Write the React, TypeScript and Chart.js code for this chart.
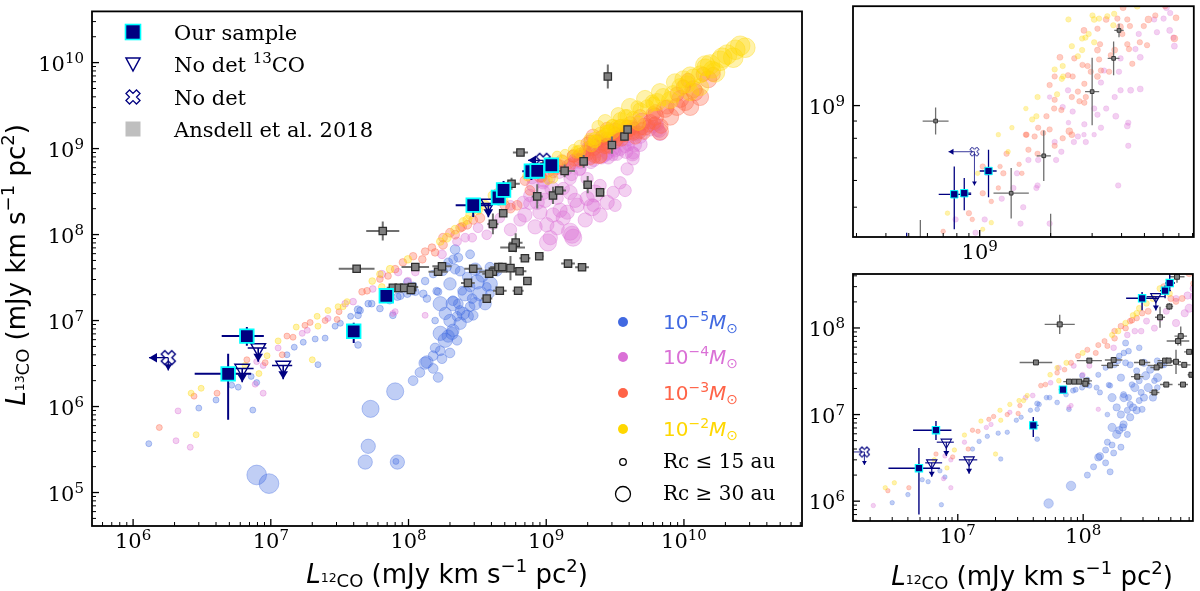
import React, { useEffect, useRef } from "react";
import { Chart, registerables } from "chart.js";

Chart.register(...registerables);

const SERIF = "'DejaVu Serif', serif";
const SANS = "'DejaVu Sans', sans-serif";
const NAVY = "#000080";
const CYAN = "#00ffff";

// ---------------- data ----------------
// Our sample (L12CO, L13CO) with error bounds
const ourL12 = [6.7e6, 4.9e6, 4.0e7, 6.9e7, 2.95e8, 4.5e8, 4.9e8, 7.8e8, 8.6e8, 1.09e9];
const ourL13 = [6.6e6, 2.4e6, 7.5e6, 1.94e7, 2.2e8, 2.7e8, 3.3e8, 5.46e8, 5.5e8, 6.4e8];
const ourL12Lo = [4.4e6, 2.8e6, 3.7e7, 6.4e7, 2.2e8, 4.1e8, 4.5e8, 6.7e8, 8.3e8, 1.0e9];
const ourL12Hi = [8.9e6, 7.2e6, 4.4e7, 7.4e7, 4.0e8, 5.0e8, 5.4e8, 9.2e8, 9.2e8, 1.18e9];
const ourL13Lo = [5.1e6, 7.0e5, 5.5e6, 1.8e7, 1.6e8, 2.2e8, 2.7e8, 4.3e8, 4.9e8, 5.35e8];
const ourL13Hi = [8.4e6, 4.1e6, 9.4e6, 2.1e7, 2.6e8, 3.1e8, 4.2e8, 6.6e8, 6.1e8, 7.4e8];

// No 13CO detection (upper limits on L13CO)
const nd13L12 = [8.1e6, 6.2e6, 1.23e7, 3.8e8];
const nd13L13 = [4.8e6, 2.77e6, 3.0e6, 2.3e8];
const nd13L12Lo = [6.8e6, 5.5e6, 1.02e7, 3.2e8];
const nd13L12Hi = [9.3e6, 7.5e6, 1.43e7, 4.5e8];
const nd13LimDex = [0.16, 0.16, 0.16, 0.16];

// No detection (upper limits on both)
const ndL12 = [1.8e6, 9.5e8];
const ndL13 = [3.7e6, 7.3e8];
const ndXLimDex = [0.14, 0.11];
const ndYLimDex = [0.15, 0.1];

// Ansdell et al. 2018
const ansL12 = [6.5e7, 4.2e7, 1.12e8, 1.64e8, 1.75e8, 7.7e7, 8.5e7, 9.3e7, 1.06e8, 1.04e8,
  2.95e8, 4.1e8, 3.85e8, 4.5e8, 2.7e8, 3.7e8, 4.8e8, 5.5e8, 6.4e8, 6.0e8,
  5.7e8, 7.0e8, 8.9e8, 1.44e9, 1.82e9, 7.3e8, 6.25e8, 4.6e8, 4.1e8, 4.87e8,
  6.5e8, 5.6e8, 1.36e9, 1.87e9, 3.0e9, 3.7e9, 3.9e9, 8.6e8, 1.12e9, 1.24e9,
  2.0e9, 2.46e9, 2.8e9];
const ansL13 = [1.1e8, 4.0e7, 4.2e7, 3.7e7, 4.27e7, 2.4e7, 2.4e7, 2.4e7, 2.45e7, 2.27e7,
  4.0e7, 3.7e7, 3.5e7, 4.2e7, 2.74e7, 1.8e7, 4.2e7, 4.07e7, 3.75e7, 8.05e7,
  7.06e7, 5.3e7, 5.6e7, 4.6e7, 4.17e7, 2.88e7, 2.22e7, 2.22e7, 1.33e8, 1.77e8,
  9.0e8, 3.9e8, 5.5e8, 7.1e8, 1.1e9, 1.38e9, 1.67e9, 2.78e8, 2.85e8, 3.26e8,
  3.8e8, 3.1e8, 6.9e9];
const ansErrXDex = [0.12, 0.13, 0.10, 0.07, 0.07, 0.045, 0.045, 0.045, 0.045, 0.04,
  0.065, 0.1, 0.05, 0.06, 0.05, 0.04, 0.05, 0.04, 0.05, 0.05,
  0.09, 0.04, 0.03, 0.05, 0.05, 0.03, 0.04, 0.05, 0.04, 0.03,
  0.055, 0.06, 0.075, 0.03, 0.03, 0.025, 0.02, 0.04, 0.03, 0.05,
  0.03, 0.03, 0.02];
const ansErrYDex = [0.11, 0.02, 0.02, 0.02, 0.02, 0.02, 0.02, 0.02, 0.02, 0.02,
  0.02, 0.02, 0.02, 0.02, 0.02, 0.02, 0.02, 0.14, 0.02, 0.11,
  0.05, 0.02, 0.02, 0.02, 0.02, 0.02, 0.02, 0.02, 0.12, 0.04,
  0.04, 0.07, 0.075, 0.075, 0.1, 0.05, 0.02, 0.14, 0.1, 0.02,
  0.1, 0.03, 0.14];

// Models, disc mass 1e-5 Msun
const m5L12 = [1.3e6, 3.0e6, 4.0e6, 5.2e6, 5.8e6, 7.4e6, 7.9e6, 7.2e6, 1.31e7, 1.48e7,
  1.72e7, 2.1e7, 2.2e7, 2.48e7, 2.93e7, 4.3e7, 4.3e7, 4.3e7, 5.1e7, 6.2e7,
  7.7e7, 8.3e7, 1.06e8, 1.28e8, 1.56e8, 1.64e8, 3.2e7, 3.8e7, 4.45e7, 5.4e7,
  7.3e7, 8.7e7, 9.8e7, 1.12e8, 1.36e8, 1.6e8, 1.51e8, 1.32e8, 1.94e8, 2.11e8,
  2.3e8, 1.9e8, 2.18e8, 1.78e8, 1.08e8, 9.8e7, 2.67e8, 2.8e8, 3.15e8, 3.3e8,
  3.05e8, 2.8e8, 2.3e8, 2.11e8, 2.37e8, 2.5e8, 2.25e8, 2.0e8, 2.1e8, 1.94e8,
  1.85e8, 2.25e8, 1.7e8, 1.51e8, 1.75e8, 1.36e8, 1.51e8, 1.64e8, 1.08e8, 8.0e7,
  5.3e7, 5.1e7, 4.85e7, 8.3e7, 7.9e6, 9.7e6, 1.32e8, 2.67e8, 2.95e8, 2.07e8,
  2.37e8, 3.9e8, 4.4e8, 3.7e8, 3.9e8, 2.45e8, 2.9e8, 2.1e8, 3.42e8, 4.25e8,
  8.1e7, 1.7e8, 1.85e8, 2.37e8, 2.58e8, 3.6e8, 3.92e8, 3.05e8, 2.0e8, 1.7e8,
  1.56e8, 2.0e8, 1.21e8, 2.18e8, 2.8e8];
const m5L13 = [3.7e5, 9.6e5, 1.19e6, 1.77e6, 1.68e6, 9.1e5, 1.9e6, 2.24e6, 4.0e6, 4.9e6,
  5.6e6, 6.1e6, 3.07e6, 6.25e6, 8.6e6, 5.2e6, 1.15e7, 1.34e7, 1.57e7, 1.38e7,
  1.15e7, 1.89e7, 2.2e7, 2.05e7, 1.0e7, 2.16e7, 9.3e6, 1.12e7, 1.31e7, 1.57e7,
  1.7e7, 1.94e7, 2.05e7, 2.16e7, 1.8e7, 2.2e7, 3.47e7, 2.88e7, 4.75e7, 5.15e7,
  5.4e7, 4.17e7, 3.96e7, 3.75e7, 2.53e7, 2.81e7, 3.2e7, 2.46e7, 2.81e7, 2.05e7,
  1.57e7, 1.45e7, 1.57e7, 1.57e7, 1.31e7, 1.21e7, 1.12e7, 1.0e7, 7.7e6, 6.6e6,
  5.9e6, 5.9e6, 4.45e6, 3.9e6, 3.6e6, 3.3e6, 2.77e6, 2.18e6, 2.0e6, 1.5e6,
  9.4e5, 3.45e5, 2.26e5, 2.26e5, 1.6e5, 1.27e5, 3.2e6, 1.12e7, 1.15e7, 7.1e6,
  3.75e7, 4.17e7, 3.75e7, 2.46e7, 2.05e7, 2.22e7, 1.8e7, 1.7e7, 3.3e7, 3.75e7,
  2.3e5, 1.57e7, 1.21e7, 9.3e6, 2.05e7, 1.57e7, 2.67e7, 3.96e7, 2.67e7, 7.1e6,
  4.8e6, 4.2e6, 2.49e6, 6.7e7, 5.9e7];
const m5Rc = [5, 5, 5, 5, 5, 5, 5, 5, 5, 5,
  5, 5, 5, 5, 5, 7, 7, 10, 7, 7,
  7, 10, 10, 10, 7, 10, 5, 5, 7, 7,
  7, 10, 10, 10, 10, 10, 10, 10, 15, 15,
  15, 15, 20, 15, 10, 10, 20, 20, 60, 60,
  40, 20, 20, 60, 20, 40, 20, 40, 40, 40,
  60, 20, 20, 20, 20, 40, 20, 20, 20, 100,
  100, 60, 60, 60, 150, 150, 40, 40, 20, 40,
  20, 20, 20, 15, 15, 15, 20, 20, 40, 15,
  5, 60, 40, 40, 60, 40, 60, 40, 40, 60,
  20, 20, 20, 20, 15];

// Models, disc mass 1e-4 Msun
const m4L12 = [2.12e6, 2.05e6, 2.6e6, 8.8e6, 7.7e6, 8.8e6, 7.9e6, 1.13e7, 1.69e7, 1.84e7,
  2.6e7, 3.47e7, 3.96e7, 5.5e7, 6.4e7, 7.7e7, 8.4e7, 9.9e7, 1.12e8, 8.0e7,
  1.32e8, 1.75e8, 2.25e8, 2.9e8, 3.2e8, 2.58e8, 3.7e8, 4.1e8, 4.6e8, 5.5e8,
  7.9e8, 9.5e8, 1.1e9, 8.6e8, 7.6e8, 9.0e8, 1.12e9, 1.42e9, 1.68e9, 1.98e9,
  2.19e9, 2.77e9, 3.06e9, 2.46e9, 1.98e9, 1.49e9, 1.33e9, 1.2e9, 1.01e9, 1.2e9,
  1.49e9, 1.07e9, 1.57e9, 2.15e9, 2.26e9, 1.33e9, 6.8e8, 8.0e8, 9.5e8, 1.49e9,
  3.44e9, 3.87e9, 4.27e9, 3.06e9, 2.38e9, 1.98e9, 1.76e9, 1.07e9, 6.4e9, 4.27e9,
  3.44e9, 2.77e9, 4.8e9, 6.7e9, 5.5e9, 6.2e9, 4.8e9, 3.74e9,
  6.03e9, 6.43e9, 5.65e9, 6.64e9, 4.73e9, 4.58e9, 3.96e9, 3.9e9, 3.37e9, 3.27e9,
  3.96e9, 4.37e9, 2.37e9, 2.48e9, 2.25e9, 3.06e9, 3.16e9, 3.78e9, 4.23e9, 3.27e9,
  2.78e9, 2.61e9, 2.82e9, 2.51e9, 2.08e9, 2.22e9, 2.11e9, 1.77e9, 1.61e9, 1.74e9,
  1.53e9, 1.44e9, 1.24e9, 1.05e9, 9.6e8, 1.39e9,
  7.0e8, 8.3e8, 1.92e9, 2.46e9, 3.16e9, 3.74e9, 9.8e8, 1.62e9, 1.26e9, 7.6e8,
  6.45e8, 5.5e8, 1.03e9, 1.54e9];
const m4L13 = [8.9e5, 4.0e5, 3.36e5, 1.43e6, 1.82e6, 3.0e6, 3.33e6, 4.8e6, 7.1e6, 7.7e6,
  1.06e7, 1.57e7, 1.66e7, 2.33e7, 3.47e7, 1.21e7, 3.66e7, 2.88e7, 3.66e7, 1.27e7,
  1.15e7, 5.9e7, 8.3e7, 9.2e7, 1.2e8, 9.2e7, 9.95e7, 1.3e8, 1.56e8, 2.19e8,
  4.6e8, 4.0e8, 3.43e8, 2.37e8, 2.31e8, 1.82e8, 1.69e8, 1.82e8, 2.19e8, 2.64e8,
  2.19e8, 2.37e8, 3.09e8, 3.72e8, 4.47e8, 4.47e8, 3.43e8, 2.64e8, 1.3e8, 1.2e8,
  1.08e8, 9.2e7, 9.2e7, 2.08e8, 3.0e8, 1.56e8, 2.37e8, 3.72e8, 3.09e8, 3.09e8,
  4.0e8, 5.8e8, 7.6e8, 8.2e8, 8.9e8, 1.06e9, 5.8e8, 6.3e8, 1.67e9, 8.9e8,
  9.8e8, 8.2e8, 1.12e9, 1.5e9, 1.8e9, 1.95e9, 1.39e9, 1.06e9,
  1.81e9, 1.88e9, 1.65e9, 1.59e9, 1.63e9, 1.47e9, 1.38e9, 1.26e9, 1.27e9, 1.17e9,
  1.11e9, 1.11e9, 1.11e9, 9.6e8, 9.9e8, 9.8e8, 9.4e8, 9.3e8, 8.7e8, 8.6e8,
  8.8e8, 8.1e8, 7.8e8, 7.8e8, 7.8e8, 7.3e8, 6.9e8, 6.9e8, 6.9e8, 5.7e8,
  5.0e8, 6.3e8, 5.3e8, 4.6e8, 4.2e8, 5.7e8,
  1.69e8, 1.23e8, 1.48e8, 1.69e8, 2.19e8, 3.26e8, 2.5e8, 2.5e8, 1.92e8, 2.85e8,
  1.48e8, 1.14e8, 8.1e7, 9.95e7];
const m4Rc = [5, 5, 5, 5, 5, 5, 5, 5, 5, 5,
  5, 7, 7, 7, 10, 5, 10, 10, 10, 5,
  5, 15, 15, 15, 20, 15, 20, 20, 20, 20,
  40, 40, 60, 60, 40, 60, 60, 60, 60, 60,
  40, 60, 40, 40, 40, 40, 40, 40, 60, 60,
  100, 60, 100, 100, 100, 60, 40, 40, 60, 60,
  40, 40, 40, 20, 20, 20, 40, 20, 60, 40,
  40, 20, 60, 60, 40, 60, 60, 40,
  40, 40, 40, 40, 40, 40, 40, 40, 40, 40,
  40, 60, 40, 40, 40, 40, 40, 60, 60, 40,
  40, 40, 40, 40, 40, 40, 40, 40, 40, 40,
  40, 40, 40, 40, 40, 40,
  60, 60, 60, 60, 40, 40, 60, 60, 60, 40,
  40, 40, 100, 100];

// Models, disc mass 1e-3 Msun
const m3L12 = [1.55e6, 2.77e6, 4.07e6, 6.7e6, 9.1e6, 1.21e7, 1.31e7, 1.45e7, 1.77e7, 1.93e7,
  3.03e7, 3.13e7, 2.48e7, 4.6e7, 5.0e7, 6.2e7, 7.1e7, 8.0e7, 9.1e7, 1.08e8,
  1.26e8, 1.32e8, 1.48e8, 1.56e8, 1.78e8, 2.18e8, 2.45e8, 2.67e8, 2.95e8, 1.78e8,
  2.0e8, 2.37e8, 3.3e8, 5.5e8, 6.15e8, 9.0e8, 1.3e9, 1.57e9, 2.08e9, 1.98e9,
  2.19e9, 2.77e9, 3.44e9, 4.06e9, 4.8e9, 6.0e9, 7.55e9, 8.9e9, 8.9e9, 9.9e9,
  1.07e10, 1.38e10, 1.63e10, 6.7e9, 5.7e9, 3.16e9, 2.46e9, 1.26e9, 1.03e9, 7.6e8,
  7.94e9, 1.02e10, 1.2e10, 5.2e9, 3.74e9, 2.82e9, 1.92e9, 1.76e9, 6.2e9, 4.4e8,
  7.0e8, 5.0e8, 1.03e9,
  3.84e9, 4.23e9, 4.97e9, 5.56e9, 6.12e9, 6.81e9, 3.16e9, 3.24e9, 3.21e9, 4.34e9,
  4.03e9, 4.78e9, 5.13e9, 3.6e9, 4.23e9, 4.3e9, 4.44e9, 3.27e9, 3.54e9, 2.87e9,
  2.96e9, 2.73e9, 2.52e9, 2.37e9, 2.48e9, 2.08e9, 2.61e9, 2.78e9, 2.08e9, 2.22e9,
  2.07e9, 2.65e9, 2.78e9, 1.77e9, 1.58e9, 1.71e9, 1.61e9, 1.47e9, 1.22e9, 1.51e9,
  1.2e9, 1.12e9, 9.3e8, 2.4e9, 2.25e9, 1.98e9, 1.86e9,
  3.16e9, 3.94e9, 4.97e9, 6.18e9, 7.3e9, 9.4e9, 1.17e10, 1.5e10, 1.11e10, 1.31e10,
  2.46e9];
const m3L13 = [5.7e5, 1.32e6, 1.43e6, 3.5e6, 3.24e6, 4.0e6, 6.6e6, 6.4e6, 8.8e6, 9.5e6,
  1.03e7, 1.27e7, 1.0e7, 2.16e7, 2.22e7, 3.04e7, 3.3e7, 3.96e7, 4.75e7, 5.6e7,
  5.15e7, 6.35e7, 7.06e7, 6.2e7, 7.6e7, 9.95e7, 1.23e8, 1.3e8, 1.48e8, 9.2e7,
  1.05e8, 1.2e8, 1.56e8, 2.03e8, 2.19e8, 4.8e8, 7.2e8, 8.2e8, 7.6e8, 1.15e9,
  1.39e9, 1.67e9, 1.8e9, 1.95e9, 2.35e9, 2.54e9, 3.05e9, 3.05e9, 4.3e9, 5.2e9,
  6.2e9, 7.3e9, 7.3e9, 1.58e9, 2.06e9, 1.22e9, 1.06e9, 6.3e8, 5.5e8, 3.26e8,
  2.35e9, 3.48e9, 4.54e9, 1.8e9, 1.46e9, 1.06e9, 9.3e8, 7.2e8, 2.68e9, 3.0e8,
  4.24e8, 2.19e8, 6.6e8,
  1.81e9, 1.8e9, 1.72e9, 1.85e9, 1.97e9, 1.82e9, 1.69e9, 1.52e9, 1.37e9, 1.72e9,
  1.63e9, 1.54e9, 1.51e9, 1.41e9, 1.52e9, 1.47e9, 1.33e9, 1.27e9, 1.26e9, 1.31e9,
  1.26e9, 1.32e9, 1.38e9, 1.23e9, 1.22e9, 1.22e9, 1.1e9, 1.16e9, 1.04e9, 9.7e8,
  9.8e8, 1.03e9, 1.02e9, 8.6e8, 8.2e8, 8.1e8, 7.4e8, 6.7e8, 6.6e8, 6.3e8,
  5.7e8, 5.2e8, 4.6e8, 8.4e8, 8.0e8, 8.5e8, 8.3e8,
  1.46e9, 1.71e9, 2.06e9, 2.35e9, 2.9e9, 3.78e9, 4.9e9, 6.4e9, 3.05e9, 3.98e9,
  8.2e8];
const m3Rc = [5, 5, 5, 5, 5, 5, 5, 5, 5, 5,
  5, 5, 5, 7, 7, 7, 7, 10, 10, 10,
  10, 10, 10, 10, 15, 15, 15, 15, 15, 15,
  15, 15, 20, 20, 20, 40, 40, 40, 40, 40,
  60, 60, 60, 60, 60, 60, 60, 100, 60, 60,
  60, 60, 60, 100, 60, 60, 40, 40, 40, 20,
  100, 100, 100, 100, 60, 40, 40, 40, 60, 20,
  20, 20, 40,
  40, 40, 40, 40, 40, 60, 40, 40, 40, 40,
  40, 40, 40, 40, 40, 40, 40, 40, 40, 40,
  40, 40, 40, 40, 40, 40, 40, 40, 40, 40,
  40, 40, 40, 40, 40, 40, 40, 20, 20, 20,
  20, 20, 20, 100, 40, 40, 40,
  60, 100, 100, 100, 100, 100, 100, 100, 100, 100,
  60];

// Models, disc mass 1e-2 Msun
const m2L12 = [2.64e6, 3.12e6, 2.87e6, 6.5e6, 8.2e6, 9.4e6, 1.13e7, 1.53e7, 2.0e7, 2.2e7,
  2.6e7, 3.35e7, 3.58e7, 2.17e7, 3.08e7, 5.45e7, 6.2e7, 6.4e7, 7.35e7, 9.9e7,
  1.7e8, 1.9e8, 2.67e8, 2.8e8, 2.5e8, 4.1e8, 3.6e8, 1.76e9, 2.08e9, 2.46e9,
  3.06e9, 3.87e9, 4.8e9, 5.4e9, 6.0e9, 7.06e9, 8.35e9, 9.4e9, 1.05e10, 1.17e10,
  1.31e10, 1.55e10, 1.83e10, 2.06e10, 2.56e10, 1.57e9, 1.2e9, 4.57e9, 1.43e10, 3.44e9,
  4.27e9, 6.4e9, 7.94e9, 1.11e10, 1.68e10, 2.28e10, 1.31e10, 2.72e9, 2.26e9, 4.87e8,
  7.3e8, 9.8e8, 1.37e9, 2.18e8, 3.2e8,
  3.01e9, 3.21e9, 3.48e9, 3.72e9, 4.66e9, 3.69e9, 2.9e9, 3.06e9, 2.81e9, 2.61e9,
  2.72e9, 2.25e9, 2.23e9, 2.13e9, 1.74e9, 1.67e9, 1.32e9, 1.12e9, 1.03e9,
  2.68e9, 3.33e9, 4.06e9, 5.22e9, 6.7e9, 8.6e9, 1.11e10, 1.43e10, 1.9e10, 2.36e10,
  2.79e10, 1.6e10, 9.9e9, 5.9e9, 3.74e9, 2.38e9];
const m2L13 = [1.43e6, 1.63e6, 4.7e5, 3.0e6, 2.42e6, 3.9e6, 5.8e6, 8.4e6, 3.5e6, 8.6e6,
  1.31e7, 1.45e7, 1.66e7, 1.12e7, 1.45e7, 2.88e7, 3.47e7, 2.46e7, 3.96e7, 5.15e7,
  8.3e7, 9.2e7, 1.48e8, 1.69e8, 1.4e8, 2.85e8, 2.19e8, 1.06e9, 1.28e9, 1.5e9,
  1.8e9, 2.35e9, 2.82e9, 3.05e9, 3.3e9, 3.98e9, 4.3e9, 5.2e9, 5.6e9, 6.7e9,
  7.3e9, 9.5e9, 1.05e10, 1.24e10, 1.57e10, 9.8e8, 8.2e8, 3.05e9, 8.8e9, 2.17e9,
  2.23e9, 3.48e9, 3.67e9, 4.54e9, 7.7e9, 1.14e10, 5.2e9, 1.58e9, 1.22e9, 2.5e8,
  4.8e8, 6.3e8, 8.6e8, 1.14e8, 1.92e8,
  1.85e9, 1.81e9, 1.84e9, 1.87e9, 1.97e9, 1.73e9, 1.63e9, 1.54e9, 1.59e9, 1.4e9,
  1.46e9, 1.31e9, 1.2e9, 1.08e9, 9.3e8, 9.1e8, 7.3e8, 4.5e8, 4.3e8,
  2.06e9, 2.48e9, 3.05e9, 3.78e9, 4.54e9, 5.9e9, 7.1e9, 9.25e9, 1.14e10, 1.41e10,
  1.49e10, 8.3e9, 6.4e9, 3.48e9, 2.35e9, 1.8e9];
const m2Rc = [5, 5, 5, 5, 5, 5, 5, 5, 5, 5,
  5, 5, 5, 5, 5, 7, 7, 7, 10, 10,
  10, 15, 15, 15, 15, 20, 20, 40, 40, 40,
  60, 60, 60, 60, 60, 100, 100, 100, 100, 100,
  100, 150, 150, 150, 150, 20, 20, 40, 100, 60,
  60, 100, 100, 100, 150, 150, 100, 40, 40, 20,
  20, 20, 20, 15, 15,
  40, 40, 40, 40, 60, 40, 40, 40, 40, 40,
  40, 40, 40, 40, 40, 40, 20, 20, 15,
  60, 60, 100, 100, 100, 100, 100, 150, 150, 150,
  150, 100, 100, 60, 60, 40];

const massLabels = ["−5", "−4", "−3", "−2"];
const massRGB = ["65,105,225", "218,112,214", "255,99,71", "255,215,0"];

// tick labels (decades)
const mainXTicks = [1e6, 1e7, 1e8, 1e9, 1e10];
const mainYTicks = [1e5, 1e6, 1e7, 1e8, 1e9, 1e10];
const topXTicks = [1e9];
const topYTicks = [1e9];
const botXTicks = [1e7, 1e8];
const botYTicks = [1e6, 1e7, 1e8];

// ---------------- helpers ----------------
type Part = { t: string; s: number; f?: string; it?: boolean; dy?: number; c?: string };

function fontOf(p: Part) {
  return `${p.it ? "italic " : ""}${p.s}px ${p.f || SANS}`;
}

function drawRich(ctx: any, x: number, y: number, parts: Part[], align = "left") {
  ctx.textBaseline = "alphabetic";
  ctx.textAlign = "left";
  const w = parts.map((p) => {
    ctx.font = fontOf(p);
    return ctx.measureText(p.t).width;
  });
  const total = w.reduce((a, b) => a + b, 0);
  let cx = align === "left" ? x : align === "center" ? x - total / 2 : x - total;
  parts.forEach((p, i) => {
    ctx.font = fontOf(p);
    ctx.fillStyle = p.c || "#000";
    ctx.fillText(p.t, cx, y + (p.dy || 0));
    cx += w[i];
  });
}

function powParts(v: number): Part[] {
  const e = Math.round(Math.log10(v));
  return [
    { t: "10", s: 21, f: SERIF },
    { t: String(e), s: 15, f: SERIF, dy: -8 },
  ];
}

function titleParts(iso: string): Part[] {
  return [
    { t: "L", s: 26, it: true },
    { t: iso, s: 12.5, dy: -1 },
    { t: "CO", s: 18, dy: 4 },
    { t: " (mJy km s", s: 26 },
    { t: "−1", s: 18, dy: -11 },
    { t: " pc", s: 26 },
    { t: "2", s: 18, dy: -11 },
    { t: ")", s: 26 },
  ];
}

function xPath(ctx: any, cx: number, cy: number, s: number) {
  const L = s * 0.53;
  const a = s * 0.18;
  const pts = [[a, L], [a, a], [L, a], [L, -a], [a, -a], [a, -L], [-a, -L], [-a, -a], [-L, -a], [-L, a], [-a, a], [-a, L]];
  ctx.beginPath();
  pts.forEach(([u, v], i) => {
    const x = cx + (u - v) * Math.SQRT1_2;
    const y = cy + (u + v) * Math.SQRT1_2;
    if (i) ctx.lineTo(x, y);
    else ctx.moveTo(x, y);
  });
  ctx.closePath();
}

function makeCross(size: number, lw: number) {
  const c = document.createElement("canvas");
  const n = Math.ceil(size + lw * 2 + 2);
  c.width = n;
  c.height = n;
  const ctx = c.getContext("2d")!;
  ctx.strokeStyle = NAVY;
  ctx.lineWidth = lw;
  xPath(ctx, n / 2, n / 2, size);
  ctx.stroke();
  return c;
}

function drawArrow(ctx: any, x0: number, y0: number, x1: number, y1: number, head: number) {
  ctx.beginPath();
  ctx.moveTo(x0, y0);
  ctx.lineTo(x1, y1);
  ctx.stroke();
  const dx = x1 - x0;
  const dy = y1 - y0;
  const len = Math.hypot(dx, dy) || 1;
  const ux = dx / len;
  const uy = dy / len;
  const bx = x1 - ux * head;
  const by = y1 - uy * head;
  const hw = head * 0.6;
  ctx.beginPath();
  ctx.moveTo(x1, y1);
  ctx.lineTo(bx - uy * hw, by + ux * hw);
  ctx.lineTo(bx + uy * hw, by - ux * hw);
  ctx.closePath();
  ctx.fill();
}

const rcRadius = (rc: number) => 3 * Math.pow(rc / 5, 0.35);

type Cfg = {
  left: number; top: number; width: number; height: number;
  pad: { left: number; top: number; right: number; bottom: number };
  xMin: number; xMax: number; yMin: number; yMax: number;
  xLabels: number[]; yLabels: number[];
  modelR: (r: number) => number; modelLw: number;
  ourR: number; ansR: number; triR: number; crossPx: number;
  lwOur: number; lwAns: number; lwMarker: number; head: number; cyanLw: number;
  xTitle: null | { cx: number; base: number };
  yTitle: null | { bx: number; cy: number };
  legends: boolean;
};

const MAIN: Cfg = {
  left: 0, top: 0, width: 820, height: 591,
  pad: { left: 92, top: 3, right: 18, bottom: 65 },
  xMin: 5.03e5, xMax: 7.2e10, yMin: 4.08e4, yMax: 3.94e10,
  xLabels: mainXTicks, yLabels: mainYTicks,
  modelR: (r) => r, modelLw: 1,
  ourR: 9.6, ansR: 5.2, triR: 8.5, crossPx: 14,
  lwOur: 2, lwAns: 2, lwMarker: 1.4, head: 8, cyanLw: 1.8,
  xTitle: { cx: 447, base: 583 },
  yTitle: { bx: 24.5, cy: 265 },
  legends: true,
};

const TOP: Cfg = {
  left: 800, top: 0, width: 400, height: 270,
  pad: { left: 53, top: 3, right: 3, bottom: 33 },
  xMin: 2.9e8, xMax: 8.1e9, yMin: 4.08e8, yMax: 1.97e9,
  xLabels: topXTicks, yLabels: topYTicks,
  modelR: (r) => 0.9 + 0.3 * r, modelLw: 0.5,
  ourR: 5.2, ansR: 2.6, triR: 5, crossPx: 9,
  lwOur: 1.3, lwAns: 1.3, lwMarker: 1, head: 5, cyanLw: 1,
  xTitle: null, yTitle: null, legends: false,
};

const BOTTOM: Cfg = {
  left: 800, top: 260, width: 400, height: 331,
  pad: { left: 53, top: 14, right: 3, bottom: 70 },
  xMin: 1.46e6, xMax: 7.5e8, yMin: 5.9e5, yMax: 4.2e8,
  xLabels: botXTicks, yLabels: botYTicks,
  modelR: (r) => 0.9 + 0.45 * r, modelLw: 0.7,
  ourR: 5.2, ansR: 3.5, triR: 6, crossPx: 10,
  lwOur: 1.4, lwAns: 1.4, lwMarker: 1.1, head: 5, cyanLw: 1.1,
  xTitle: { cx: 1032, base: 585 }, yTitle: null, legends: false,
};

function buildConfig(cfg: Cfg) {
  const crossImg = makeCross(cfg.crossPx, cfg.lwMarker);
  const pts = (xs: number[], ys: number[]) => xs.map((x, i) => ({ x, y: ys[i] }));
  const models = [
    { xs: m5L12, ys: m5L13, rc: m5Rc, c: massRGB[0], order: 10 },
    { xs: m4L12, ys: m4L13, rc: m4Rc, c: massRGB[1], order: 9 },
    { xs: m3L12, ys: m3L13, rc: m3Rc, c: massRGB[2], order: 8 },
    { xs: m2L12, ys: m2L13, rc: m2Rc, c: massRGB[3], order: 7 },
  ];
  const datasets: any[] = models.map((m, k) => ({
    label: "1e" + massLabels[k],
    data: pts(m.xs, m.ys),
    pointRadius: m.rc.map((rc) => cfg.modelR(rcRadius(rc))),
    backgroundColor: `rgba(${m.c},0.33)`,
    borderColor: `rgba(${m.c},0.36)`,
    borderWidth: cfg.modelLw,
    order: m.order,
    clip: 0,
  }));

  datasets.push({
    label: "Ansdell et al. 2018",
    data: pts(ansL12, ansL13),
    pointStyle: "rect",
    pointRadius: cfg.ansR,
    backgroundColor: "#7f7f7f",
    borderColor: "#2e2e2e",
    borderWidth: cfg.lwMarker * 0.9,
    order: 6,
    clip: 0,
    errDraw: (chart: any, ctx: any) => {
      const xs = chart.scales.x, ys = chart.scales.y;
      ctx.strokeStyle = "#6f6f6f";
      ctx.lineWidth = cfg.lwAns;
      ansL12.forEach((v, i) => {
        const px = xs.getPixelForValue(v), py = ys.getPixelForValue(ansL13[i]);
        const fx = Math.pow(10, ansErrXDex[i]), fy = Math.pow(10, ansErrYDex[i]);
        ctx.beginPath();
        ctx.moveTo(xs.getPixelForValue(v / fx), py);
        ctx.lineTo(xs.getPixelForValue(v * fx), py);
        ctx.moveTo(px, ys.getPixelForValue(ansL13[i] / fy));
        ctx.lineTo(px, ys.getPixelForValue(ansL13[i] * fy));
        ctx.stroke();
      });
    },
  });

  datasets.push({
    label: "No det 13CO",
    data: pts(nd13L12, nd13L13),
    pointStyle: "triangle",
    rotation: 180,
    pointRadius: cfg.triR,
    backgroundColor: "rgba(0,0,0,0)",
    borderColor: NAVY,
    borderWidth: cfg.lwMarker,
    order: 5,
    clip: 0,
    errDraw: (chart: any, ctx: any) => {
      const xs = chart.scales.x, ys = chart.scales.y;
      ctx.strokeStyle = NAVY;
      ctx.fillStyle = NAVY;
      ctx.lineWidth = cfg.lwOur * 0.8;
      nd13L12.forEach((v, i) => {
        const px = xs.getPixelForValue(v), py = ys.getPixelForValue(nd13L13[i]);
        ctx.beginPath();
        ctx.moveTo(xs.getPixelForValue(nd13L12Lo[i]), py);
        ctx.lineTo(xs.getPixelForValue(nd13L12Hi[i]), py);
        ctx.stroke();
        const y1 = ys.getPixelForValue(nd13L13[i] / Math.pow(10, nd13LimDex[i]));
        drawArrow(ctx, px, py, px, y1, cfg.head);
      });
    },
  });

  datasets.push({
    label: "No det",
    data: pts(ndL12, ndL13),
    pointStyle: crossImg,
    pointRadius: cfg.crossPx / 2,
    order: 4,
    clip: 0,
    errDraw: (chart: any, ctx: any) => {
      const xs = chart.scales.x, ys = chart.scales.y;
      ctx.strokeStyle = NAVY;
      ctx.fillStyle = NAVY;
      ctx.lineWidth = cfg.lwOur * 0.6;
      ndL12.forEach((v, i) => {
        const px = xs.getPixelForValue(v), py = ys.getPixelForValue(ndL13[i]);
        const x1 = xs.getPixelForValue(v / Math.pow(10, ndXLimDex[i]));
        const y1 = ys.getPixelForValue(ndL13[i] / Math.pow(10, ndYLimDex[i]));
        drawArrow(ctx, px, py, x1, py, cfg.head);
        drawArrow(ctx, px, py, px, y1, cfg.head * 0.8);
      });
    },
  });

  datasets.push({
    label: "Our sample",
    data: pts(ourL12, ourL13),
    pointStyle: "rect",
    pointRadius: cfg.ourR,
    backgroundColor: NAVY,
    borderColor: CYAN,
    borderWidth: cfg.cyanLw,
    order: 3,
    clip: 0,
    errDraw: (chart: any, ctx: any) => {
      const xs = chart.scales.x, ys = chart.scales.y;
      ctx.strokeStyle = NAVY;
      ctx.lineWidth = cfg.lwOur;
      ourL12.forEach((v, i) => {
        const px = xs.getPixelForValue(v), py = ys.getPixelForValue(ourL13[i]);
        ctx.beginPath();
        ctx.moveTo(xs.getPixelForValue(ourL12Lo[i]), py);
        ctx.lineTo(xs.getPixelForValue(ourL12Hi[i]), py);
        ctx.moveTo(px, ys.getPixelForValue(ourL13Lo[i]));
        ctx.lineTo(px, ys.getPixelForValue(ourL13Hi[i]));
        ctx.stroke();
      });
    },
  });

  const decor = {
    id: "decor",
    beforeDatasetDraw(chart: any, args: any) {
      const ds: any = chart.data.datasets[args.index];
      if (!ds || !ds.errDraw) return;
      const { ctx, chartArea: a } = chart;
      ctx.save();
      ctx.beginPath();
      ctx.rect(a.left, a.top, a.right - a.left, a.bottom - a.top);
      ctx.clip();
      ds.errDraw(chart, ctx);
      ctx.restore();
    },
    afterDraw(chart: any) {
      const { ctx, chartArea: a } = chart;
      const xs = chart.scales.x, ys = chart.scales.y;
      ctx.save();
      ctx.strokeStyle = "#000";
      const tickLoop = (min: number, max: number, fn: (v: number, major: boolean) => void) => {
        for (let e = Math.floor(Math.log10(min)); e <= Math.ceil(Math.log10(max)); e++) {
          for (let m = 1; m <= 9; m++) {
            const v = m * Math.pow(10, e);
            if (v >= min * 0.9999 && v <= max * 1.0001) fn(v, m === 1);
          }
        }
      };
      tickLoop(cfg.xMin, cfg.xMax, (v, major) => {
        const px = xs.getPixelForValue(v);
        ctx.lineWidth = major ? 1.3 : 1;
        ctx.beginPath();
        ctx.moveTo(px, a.bottom);
        ctx.lineTo(px, a.bottom - (major ? 7 : 4));
        ctx.stroke();
      });
      tickLoop(cfg.yMin, cfg.yMax, (v, major) => {
        const py = ys.getPixelForValue(v);
        ctx.lineWidth = major ? 1.3 : 1;
        ctx.beginPath();
        ctx.moveTo(a.left, py);
        ctx.lineTo(a.left + (major ? 7 : 4), py);
        ctx.stroke();
      });
      ctx.lineWidth = 1.8;
      ctx.strokeRect(a.left, a.top, a.right - a.left, a.bottom - a.top);
      cfg.xLabels.forEach((v) => drawRich(ctx, xs.getPixelForValue(v), a.bottom + 22, powParts(v), "center"));
      cfg.yLabels.forEach((v) => drawRich(ctx, a.left - 8, ys.getPixelForValue(v) + 8, powParts(v), "right"));
      if (cfg.xTitle) {
        drawRich(ctx, cfg.xTitle.cx - cfg.left, cfg.xTitle.base - cfg.top, titleParts("12"), "center");
      }
      if (cfg.yTitle) {
        ctx.save();
        ctx.translate(cfg.yTitle.bx - cfg.left, cfg.yTitle.cy - cfg.top);
        ctx.rotate(-Math.PI / 2);
        drawRich(ctx, 0, 0, titleParts("13"), "center");
        ctx.restore();
      }
      if (cfg.legends) {
        const lx = 133, tx = 174;
        ctx.fillStyle = NAVY;
        ctx.fillRect(lx - 7.5, 32 - 7.5, 15, 15);
        ctx.strokeStyle = CYAN;
        ctx.lineWidth = 1.6;
        ctx.strokeRect(lx - 7.5, 32 - 7.5, 15, 15);
        drawRich(ctx, tx, 40, [{ t: "Our sample", s: 21, f: SERIF }]);
        ctx.strokeStyle = NAVY;
        ctx.lineWidth = 1.5;
        ctx.beginPath();
        ctx.moveTo(lx - 7, 58);
        ctx.lineTo(lx + 7, 58);
        ctx.lineTo(lx, 71);
        ctx.closePath();
        ctx.stroke();
        drawRich(ctx, tx, 72, [
          { t: "No det ", s: 21, f: SERIF },
          { t: "13", s: 15, f: SERIF, dy: -9 },
          { t: "CO", s: 21, f: SERIF },
        ]);
        ctx.lineWidth = 1.3;
        xPath(ctx, lx, 97, 14);
        ctx.stroke();
        drawRich(ctx, tx, 105, [{ t: "No det", s: 21, f: SERIF }]);
        ctx.fillStyle = "#bfbfbf";
        ctx.fillRect(lx - 7.5, 129 - 7.5, 15, 15);
        drawRich(ctx, tx, 137, [{ t: "Ansdell et al. 2018", s: 21, f: SERIF }]);

        const rx = 623, rtx = 663;
        const rows = [322, 357, 393, 429];
        rows.forEach((ry, k) => {
          const c = `rgb(${massRGB[k]})`;
          ctx.fillStyle = c;
          ctx.beginPath();
          ctx.arc(rx, ry, 5, 0, Math.PI * 2);
          ctx.fill();
          drawRich(ctx, rtx, ry + 7, [
            { t: "10", s: 20, c },
            { t: massLabels[k], s: 14, dy: -8, c },
            { t: "M", s: 20, it: true, c },
            { t: "⊙", s: 14, dy: 4, c },
          ]);
        });
        ctx.strokeStyle = "#000";
        ctx.lineWidth = 1.3;
        ctx.beginPath();
        ctx.arc(rx, 462, 3.3, 0, Math.PI * 2);
        ctx.stroke();
        drawRich(ctx, rtx, 468, [{ t: "Rc ≤ 15 au", s: 20, f: SERIF }]);
        ctx.beginPath();
        ctx.arc(rx, 494, 7.5, 0, Math.PI * 2);
        ctx.stroke();
        drawRich(ctx, rtx, 500, [{ t: "Rc ≥ 30 au", s: 20, f: SERIF }]);
      }
      ctx.restore();
    },
  };

  return {
    type: "scatter" as const,
    data: { datasets },
    options: {
      animation: false as const,
      responsive: false,
      events: [],
      layout: { padding: cfg.pad },
      plugins: { legend: { display: false }, tooltip: { enabled: false } },
      scales: {
        x: { type: "logarithmic" as const, min: cfg.xMin, max: cfg.xMax, display: false },
        y: { type: "logarithmic" as const, min: cfg.yMin, max: cfg.yMax, display: false },
      },
    },
    plugins: [decor],
  };
}

function Panel({ cfg }: { cfg: Cfg }) {
  const ref = useRef<HTMLCanvasElement>(null);
  useEffect(() => {
    const canvas = ref.current;
    if (!canvas) return;
    const chart = new Chart(canvas, buildConfig(cfg) as any);
    return () => chart.destroy();
  }, [cfg]);
  return (
    <canvas
      ref={ref}
      width={cfg.width}
      height={cfg.height}
      style={{ position: "absolute", left: cfg.left, top: cfg.top, width: cfg.width, height: cfg.height }}
    />
  );
}

export default function App() {
  return (
    <div style={{ position: "absolute", left: 0, top: 0, width: 1200, height: 591, background: "#fff", overflow: "hidden" }}>
      <Panel cfg={MAIN} />
      <Panel cfg={TOP} />
      <Panel cfg={BOTTOM} />
    </div>
  );
}
